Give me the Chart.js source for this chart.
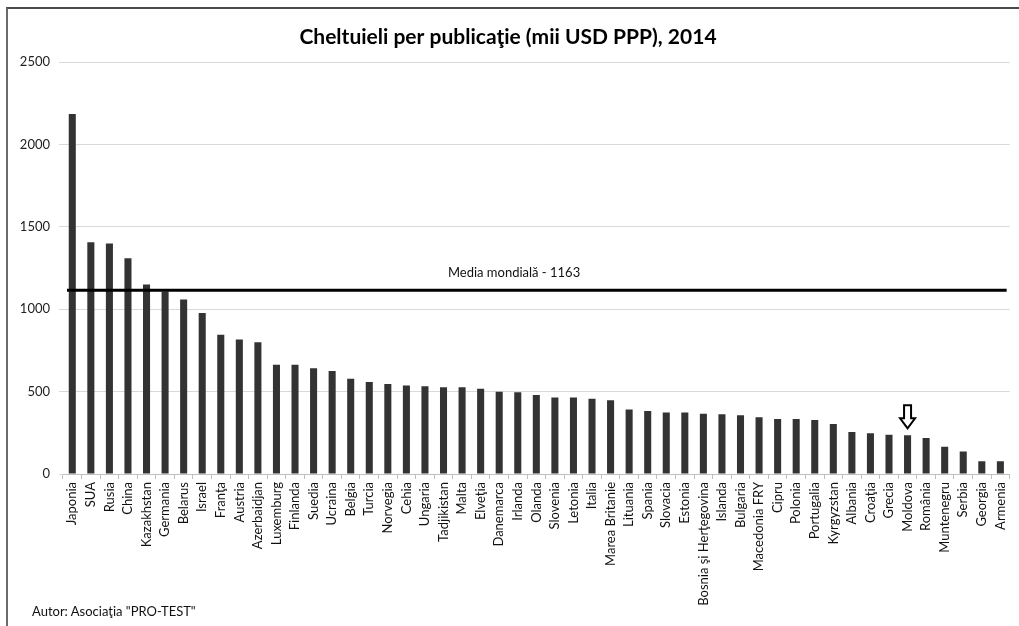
<!DOCTYPE html>
<html lang="ro">
<head>
<meta charset="utf-8">
<title>Cheltuieli per publicaţie</title>
<script src="https://cdn.jsdelivr.net/npm/chart.js@4.4.1/dist/chart.umd.min.js"></script>
<style>
    html, body {
        margin: 0;
        padding: 0;
        background: #ffffff;
    }

    .frame {
        position: absolute;
        left: 6px;
        top: 7px;
        width: 1013px;
        height: 619px;
        border-top: 2px solid #4a4a4a;
        border-left: 2px solid #6a6a6a;
        box-sizing: border-box;
    }

    .wrap {
        position: absolute;
        left: 0;
        top: 0;
        width: 1019px;
        height: 626px;
    }

    .footer {
        position: absolute;
        left: 32px;
        top: 603px;
        font-family: Lato, "Open Sans", sans-serif;
        font-size: 13px;
        color: #111111;
    }
</style>
</head>
<body>
<div class="frame"></div>
<div class="wrap">
    <canvas id="chart" width="1019" height="626"></canvas>
</div>
<div class="footer">Autor: Asociaţia "PRO-TEST"</div>

<script>
const countries = [
    'Japonia', 'SUA', 'Rusia', 'China', 'Kazakhstan', 'Germania', 'Belarus', 'Israel',
    'Franţa', 'Austria', 'Azerbaidjan', 'Luxemburg', 'Finlanda', 'Suedia', 'Ucraina',
    'Belgia', 'Turcia', 'Norvegia', 'Cehia', 'Ungaria', 'Tadjikistan', 'Malta', 'Elveţia',
    'Danemarca', 'Irlanda', 'Olanda', 'Slovenia', 'Letonia', 'Italia', 'Marea Britanie',
    'Lituania', 'Spania', 'Slovacia', 'Estonia', 'Bosnia şi Herţegovina', 'Islanda',
    'Bulgaria', 'Macedonia FRY', 'Cipru', 'Polonia', 'Portugalia', 'Kyrgyzstan', 'Albania',
    'Croaţia', 'Grecia', 'Moldova', 'România', 'Muntenegru', 'Serbia', 'Georgia', 'Armenia',
];

const costs = [
    2185, 1407, 1399, 1310, 1150, 1108, 1059, 978,
    845, 816, 800, 664, 664, 642, 625,
    579, 559, 547, 538, 532, 526, 526, 518,
    500, 496, 480, 464, 464, 457, 447,
    391, 383, 374, 374, 366, 362,
    356, 344, 334, 334, 328, 304, 255,
    247, 239, 235, 219, 166, 137, 77, 77,
];

const yTicks = [0, 500, 1000, 1500, 2000, 2500];

const worldAverage = 1163;
const worldAverageLevel = 1115;
const worldAverageLabel = `Media mondială - ${worldAverage}`;
const markedCountry = 'Moldova';

const fontFamily = 'Lato, "Open Sans", sans-serif';

// linia mediei mondiale, eticheta ei si sageata peste Moldova
const overlayPlugin = {
    id: 'overlay',
    afterDatasetsDraw(chart) {
        const { ctx, chartArea, scales } = chart;
        const y = scales.y.getPixelForValue(worldAverageLevel);

        ctx.save();
        ctx.strokeStyle = '#000000';
        ctx.lineWidth = 3;
        ctx.beginPath();
        ctx.moveTo(chartArea.left + 4, y);
        ctx.lineTo(chartArea.right - 3, y);
        ctx.stroke();

        ctx.fillStyle = '#111111';
        ctx.font = `13px ${fontFamily}`;
        ctx.textAlign = 'center';
        ctx.textBaseline = 'middle';
        ctx.fillText(worldAverageLabel, scales.x.getPixelForValue(23.8), y - 18);

        const index = countries.indexOf(markedCountry);
        const ax = scales.x.getPixelForValue(index);
        const tip = scales.y.getPixelForValue(costs[index]) - 7;
        const top = tip - 23;
        const neck = tip - 10;

        ctx.lineWidth = 2;
        ctx.lineJoin = 'miter';
        ctx.fillStyle = '#ffffff';
        ctx.beginPath();
        ctx.moveTo(ax - 3.5, top);
        ctx.lineTo(ax + 3.5, top);
        ctx.lineTo(ax + 3.5, neck);
        ctx.lineTo(ax + 7.5, neck);
        ctx.lineTo(ax, tip);
        ctx.lineTo(ax - 7.5, neck);
        ctx.lineTo(ax - 3.5, neck);
        ctx.closePath();
        ctx.fill();
        ctx.stroke();
        ctx.restore();
    },
};

document.addEventListener('DOMContentLoaded', () => {
    const canvas = document.getElementById('chart');

    if (!(canvas instanceof HTMLCanvasElement)) {
        return;
    }

    new Chart(canvas.getContext('2d'), {
        type: 'bar',
        data: {
            labels: countries,
            datasets: [
                {
                    data: costs,
                    backgroundColor: '#333333',
                    borderWidth: 0,
                    categoryPercentage: 1,
                    barPercentage: 0.38,
                },
            ],
        },
        options: {
            responsive: false,
            animation: false,
            layout: {
                padding: {
                    top: 8,
                    left: 0,
                    right: 3,
                    bottom: 2,
                },
            },
            plugins: {
                legend: false,
                tooltip: false,
                title: {
                    display: true,
                    text: 'Cheltuieli per publicaţie (mii USD PPP), 2014',
                    color: '#000000',
                    font: {
                        family: fontFamily,
                        size: 21,
                        weight: 'bold',
                    },
                    padding: {
                        top: 17,
                        bottom: 12,
                    },
                },
            },
            scales: {
                x: {
                    afterFit(scale) {
                        scale.height = 150;
                    },
                    grid: {
                        display: true,
                        drawOnChartArea: false,
                        drawTicks: true,
                        tickLength: 5,
                        color: '#bfbfbf',
                    },
                    border: {
                        display: true,
                        color: '#bfbfbf',
                    },
                    ticks: {
                        autoSkip: false,
                        maxRotation: 90,
                        minRotation: 90,
                        padding: 3,
                        color: '#111111',
                        font: {
                            family: fontFamily,
                            size: 13,
                        },
                    },
                },
                y: {
                    min: 0,
                    max: 2500,
                    afterFit(scale) {
                        scale.width = 63;
                    },
                    afterBuildTicks(scale) {
                        scale.ticks = yTicks.map((value) => ({ value }));
                    },
                    grid: {
                        color: '#d9d9d9',
                        tickLength: 4,
                    },
                    border: {
                        display: false,
                    },
                    ticks: {
                        padding: 9,
                        color: '#222222',
                        font: {
                            family: fontFamily,
                            size: 13,
                        },
                        callback(value) {
                            return `${value}`;
                        },
                    },
                },
            },
        },
        plugins: [overlayPlugin],
    });
});
</script>
</body>
</html>
